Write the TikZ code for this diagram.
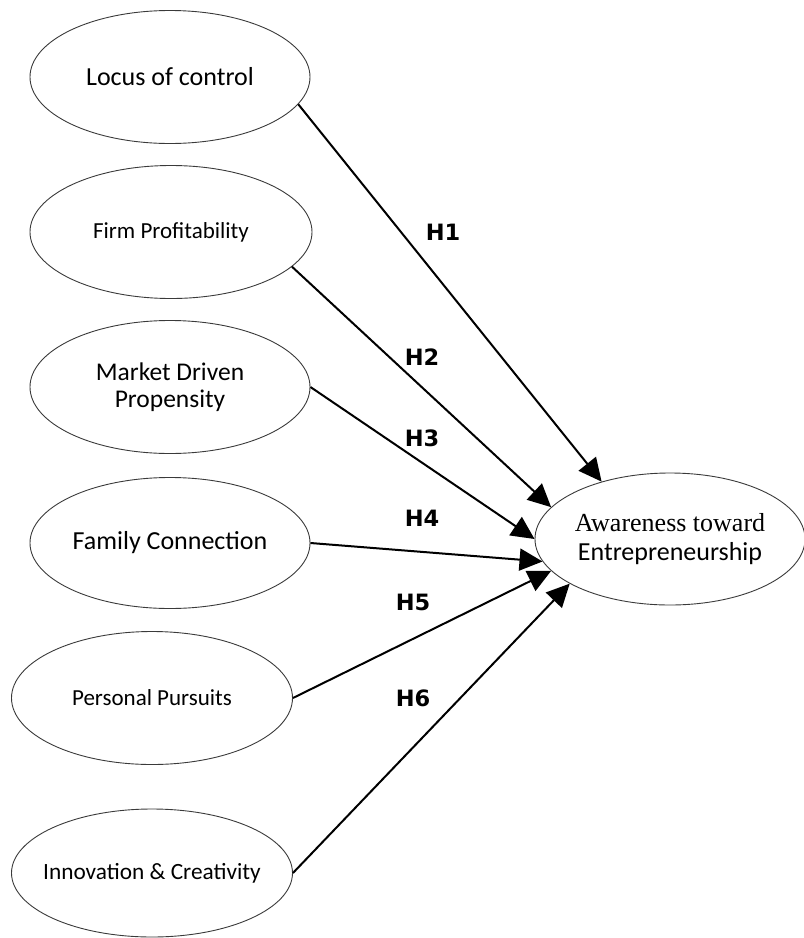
\documentclass[tikz,border=0pt]{standalone}
\usepackage{fontspec}
\setmainfont{Carlito}
\newfontfamily\serifrm{Liberation Serif}
\newfontfamily\hypfont{DejaVu Sans}
\usepackage{xcolor}
\usetikzlibrary{shapes.geometric,arrows.meta}
\definecolor{ovalLine}{HTML}{3A3A3A}

\begin{document}
\begin{tikzpicture}[x=1pt, y=-1pt,
  construct/.style={ellipse, draw=ovalLine, line width=0.9pt, inner sep=0pt, align=center},
  hyparrow/.style={line width=2pt, -{Triangle[length=23pt,width=22pt]}},
  hyplabel/.style={font=\hypfont\bfseries\fontsize{22.5}{26}\selectfont}]
  \useasboundingbox (0,0) rectangle (804,938);

  % Independent constructs
  \node[construct, minimum width=280pt, minimum height=133pt, font=\fontsize{26}{30}\selectfont] (locus) at (170,77) {Locus of control};
  \node[construct, minimum width=282pt, minimum height=133pt, font=\fontsize{23}{27}\selectfont] (firm) at (171,232) {Firm Profitability};
  \node[construct, minimum width=280pt, minimum height=133pt, font=\fontsize{25.5}{27}\selectfont] (market) at (170,387) {Market Driven\\Propensity};
  \node[construct, minimum width=280pt, minimum height=131pt, font=\fontsize{26}{30}\selectfont] (family) at (170,543) {Family Connection};
  \node[construct, minimum width=281pt, minimum height=133pt, font=\fontsize{23}{27}\selectfont] (personal) at (152,698) {Personal Pursuits};
  \node[construct, minimum width=281pt, minimum height=128pt, inner xsep=-30pt, font=\fontsize{23.3}{27}\selectfont] (innov) at (152,873) {Innovation \& Creativity};

  % Dependent construct
  \node[construct, minimum width=270pt, minimum height=132pt, inner xsep=-10pt, font=\fontsize{26}{29}\selectfont] (aware) at (670,539) {{\serifrm Awareness toward}\\Entrepreneurship};

  % Hypotheses
  \draw[hyparrow] (locus.-12.8) -- (aware.140.7);
  \draw[hyparrow] (firm.-16.1) -- (aware.165.7);
  \draw[hyparrow] (market.east) -- (aware.180);
  \draw[hyparrow] (family.east) -- (aware.-170.6);
  \draw[hyparrow] (personal.east) -- (aware.-165.5);
  \draw[hyparrow] (innov.east) -- (aware.-156.2);

  \node[hyplabel] (h1) at (443,232) {H1};
  \node[hyplabel] (h2) at (422,357) {H2};
  \node[hyplabel] (h3) at (422,438) {H3};
  \node[hyplabel] (h4) at (422,518) {H4};
  \node[hyplabel] (h5) at (413,602) {H5};
  \node[hyplabel] (h6) at (413,698) {H6};
\end{tikzpicture}
\end{document}
